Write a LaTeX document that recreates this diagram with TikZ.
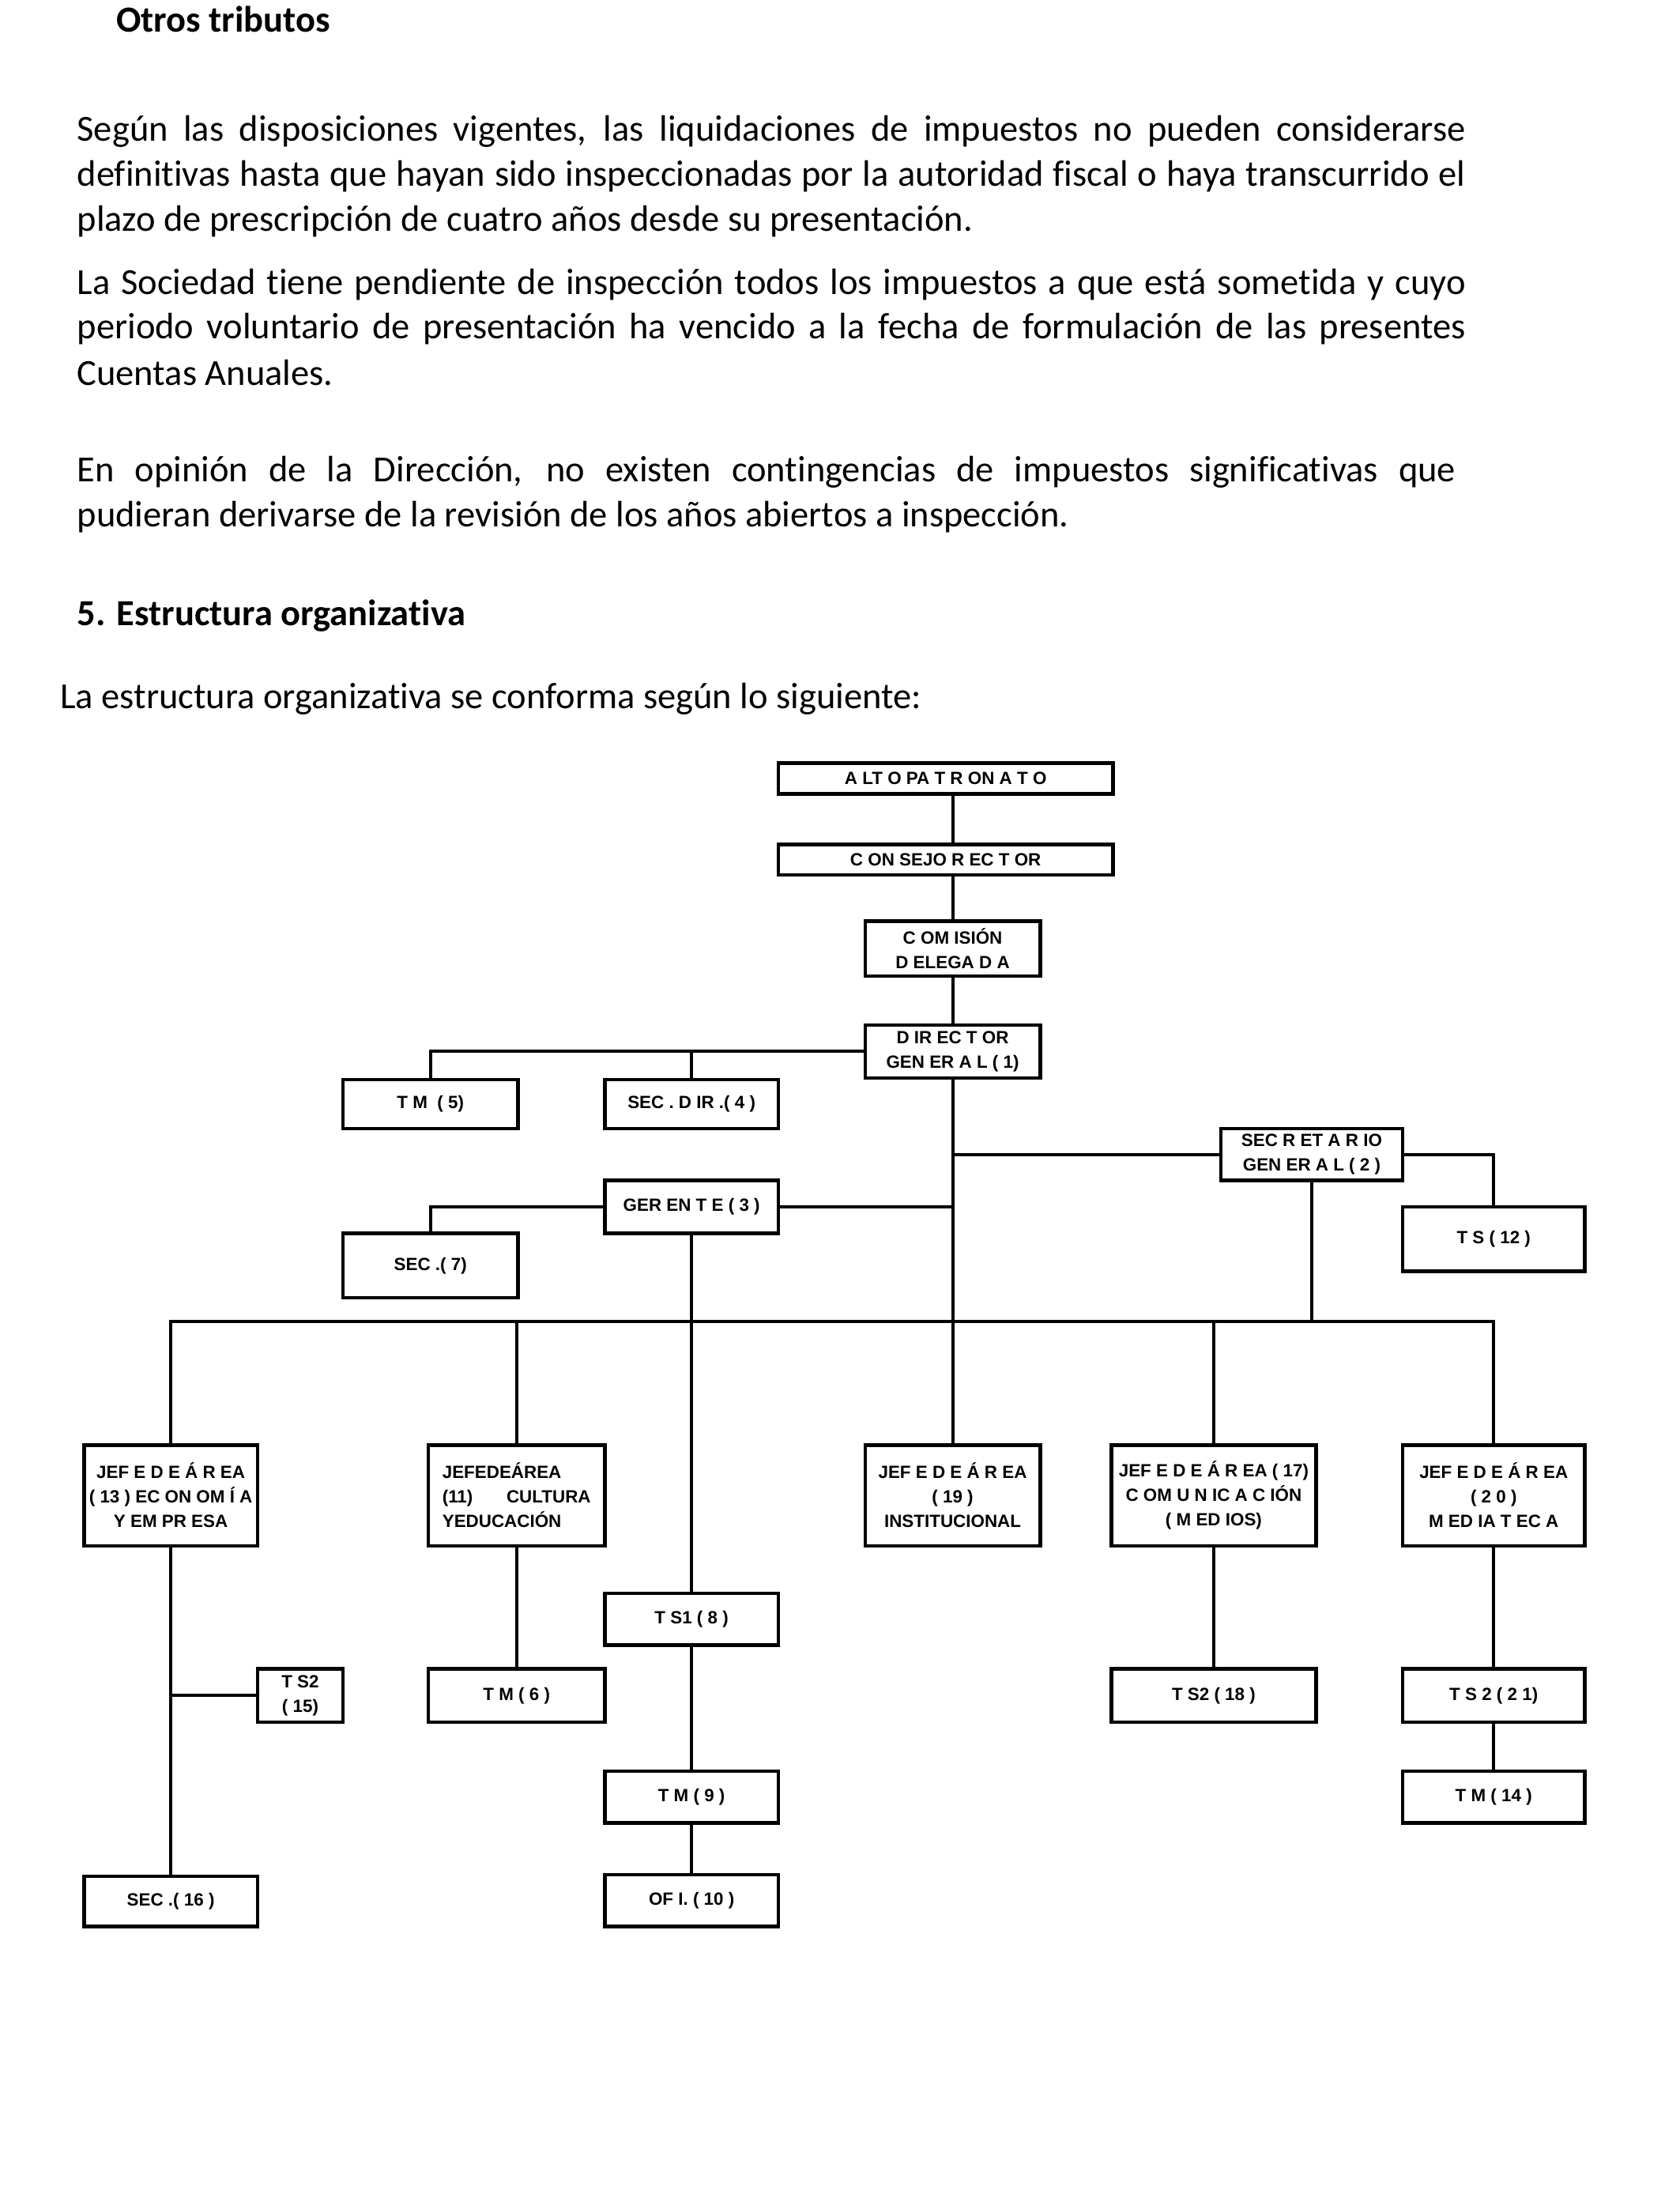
\documentclass[tikz,border=0pt]{standalone}
\usepackage{fontspec}
\setmainfont{Carlito}[Ligatures=NoCommon]
\newfontfamily\chartfont{Liberation Sans}
\begin{document}
\begin{tikzpicture}[x=1.77167pt,y=-1.77167pt,
  txt/.style={anchor=base west, inner sep=0pt, font=\fontsize{46.5}{56.7}\selectfont},
  txtb/.style={anchor=base west, inner sep=0pt, font=\fontsize{46.5}{56.7}\selectfont\bfseries},
  bx/.style={draw=black, line width=4.5pt, fill=white, inner sep=0pt, align=center,
    font=\chartfont\bfseries\fontsize{22.4}{31}\selectfont},
  sz/.style 2 args={minimum width=#1*1.77167pt, minimum height=#2*1.77167pt},
  cn/.style={draw=black, line width=4pt, line join=miter}]
\useasboundingbox (0,0) rectangle (1200,1567);
\fill[white] (0,0) rectangle (1200,1567);

% ---------- text ----------
\node[txtb] (h1) at (83,23) {Otros tributos};
\node[txt] (p1a) at (55,101) {\makebox[1757.5pt][s]{Según las disposiciones vigentes, las liquidaciones de impuestos no pueden considerarse}};
\node[txt] (p1b) at (55,133) {\makebox[1757.5pt][s]{definitivas hasta que hayan sido inspeccionadas por la autoridad fiscal o haya transcurrido el}};
\node[txt] (p1c) at (55,165) {plazo de prescripción de cuatro años desde su presentación.};
\node[txt] (p2a) at (55,210) {\makebox[1757.5pt][s]{La Sociedad tiene pendiente de inspección todos los impuestos a que está sometida y cuyo}};
\node[txt] (p2b) at (55,242) {\makebox[1757.5pt][s]{periodo voluntario de presentación ha vencido a la fecha de formulación de las presentes}};
\node[txt] (p2c) at (55,275) {Cuentas Anuales.};
\node[txt] (p3a) at (55,344) {\makebox[1745pt][s]{En opinión de la Dirección, no existen contingencias de impuestos significativas que}};
\node[txt] (p3b) at (55,376) {pudieran derivarse de la revisión de los años abiertos a inspección.};
\node[txtb] (h2) at (55,447) {5. Estructura organizativa};
\node[txt] (p4) at (43,506) {La estructura organizativa se conforma según lo siguiente:};

% ---------- chart boxes ----------
\node[bx, sz={239}{22}] (alto) at (675.5,556) {A LT O PA T R ON A T O};
\node[bx, sz={239}{22}] (consejo) at (675.5,614) {C ON SEJO R EC T OR};
\node[bx, sz={125}{39}] (comision) at (680.5,677.5) {C OM ISIÓN\\D ELEGA D A};
\node[bx, sz={125}{38}] (director) at (680.5,751) {D IR EC T OR\\GEN ER A L ( 1)};
\node[bx, sz={125}{35}] (tm5) at (307.5,788.5) {T M~ ( 5)};
\node[bx, sz={124}{35}] (secdir) at (494,788.5) {SEC . D IR .( 4 )};
\node[bx, sz={130}{37}] (secgen) at (937,824.5) {SEC R ET A R IO\\GEN ER A L ( 2 )};
\node[bx, sz={130}{46}] (ts12) at (1067,885) {T S ( 12 )};
\node[bx, sz={124}{38}] (gerente) at (494,862) {GER EN T E ( 3 )};
\node[bx, sz={125}{46}] (sec7) at (307.5,904) {SEC .( 7)};
\node[bx, sz={124}{72}] (j13) at (122,1068) {JEF E D E Á R EA\\( 13 ) EC ON OM Í A\\Y EM PR ESA};
\node[bx, sz={126}{72}, align=left, text width=187.8pt] (j11) at (369,1068) {JEFEDEÁREA\\(11)\hfill CULTURA\\YEDUCACIÓN};
\node[bx, sz={125}{72}] (j19) at (680.5,1068) {JEF E D E Á R EA\\( 19 )\\INSTITUCIONAL};
\node[bx, sz={146}{72}] (j17) at (867,1068) {JEF E D E Á R EA ( 17)\\C OM U N IC A C IÓN\\( M ED IOS)};
\node[bx, sz={130}{72}] (j20) at (1067,1068) {JEF E D E Á R EA\\( 2 0 )\\M ED IA T EC A};
\node[bx, sz={124}{37}] (ts1) at (494,1156.5) {T S1 ( 8 )};
\node[bx, sz={61}{38}] (ts15) at (214.5,1211) {T S2\\( 15)};
\node[bx, sz={126}{38}] (tm6) at (369,1211) {T M ( 6 )};
\node[bx, sz={146}{38}] (ts18) at (867,1211) {T S2 ( 18 )};
\node[bx, sz={130}{38}] (ts21) at (1067,1211) {T S 2 ( 2 1)};
\node[bx, sz={124}{37}] (tm9) at (494,1283.5) {T M ( 9 )};
\node[bx, sz={130}{37}] (tm14) at (1067,1283.5) {T M ( 14 )};
\node[bx, sz={124}{36}] (sec16) at (122,1358) {SEC .( 16 )};
\node[bx, sz={124}{37}] (of10) at (494,1357.5) {OF I. ( 10 )};

% ---------- connectors ----------
\coordinate (spine) at (681,0);
\coordinate (bus) at (0,944);
\draw[cn] (alto.south -| spine) -- (consejo.north -| spine);
\draw[cn] (consejo.south -| spine) -- (comision.north -| spine);
\draw[cn] (comision.south -| spine) -- (director.north -| spine);
\draw[cn] (director.south -| spine) -- (j19.north -| spine);
\draw[cn] (director.west) -| (tm5.north);
\draw[cn] (secdir.north) -- (secdir.north |- director.west);
\draw[cn] (secgen.west) -- (secgen.west -| spine);
\draw[cn] (secgen.east) -| (ts12.north);
\draw[cn] (secgen.south) -- (secgen.south |- bus);
\draw[cn] (gerente.east) -- (gerente.east -| spine);
\draw[cn] (gerente.west) -| (sec7.north);
\draw[cn] (gerente.south) -- (ts1.north);
\draw[cn] (j13.north) |- (j20.north |- bus) -- (j20.north);
\draw[cn] (j11.north) -- (j11.north |- bus);
\draw[cn] (j17.north) -- (j17.north |- bus);
\draw[cn] (j13.south) -- (sec16.north);
\draw[cn] (ts15.west) -- (ts15.west -| j13.south);
\draw[cn] (j11.south) -- (tm6.north);
\draw[cn] (ts1.south) -- (tm9.north);
\draw[cn] (tm9.south) -- (of10.north);
\draw[cn] (j17.south) -- (ts18.north);
\draw[cn] (j20.south) -- (ts21.north);
\draw[cn] (ts21.south) -- (tm14.north);
\end{tikzpicture}
\end{document}
